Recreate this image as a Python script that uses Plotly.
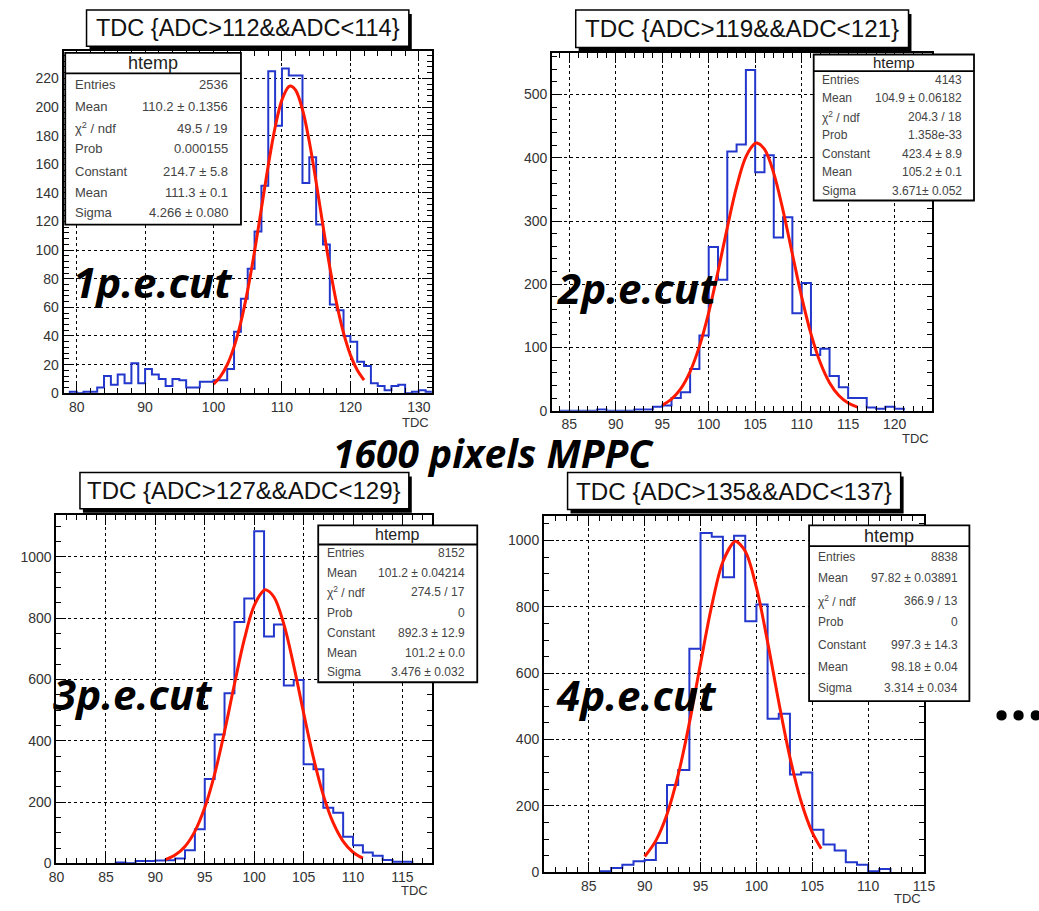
import plotly.graph_objects as go

W, H = 1039, 911

# ---------------- data ----------------
BIN_WIDTH = 1.0

P1_FIRST_EDGE = 79
P1_COUNTS = [1, 0, 1, 1, 4, 12, 6, 13, 7, 21, 7, 17, 13, 10, 5, 10, 9, 4, 4, 8, 8, 9, 9, 17,
             43, 66, 87, 113, 145, 225, 187, 227, 222, 222, 147, 165, 118, 104, 62, 58, 40,
             36, 22, 19, 7, 5, 2, 5, 6, 0, 1, 2, 1]
P1_FIT_X = [100, 101, 102, 103, 104, 105, 106, 107, 108, 109, 110, 111, 111.3,
            112, 113, 114, 115, 116, 117, 118, 119, 120, 121, 122]
P1_FIT_Y = [6.4, 11.6, 19.9, 32.4, 49.7, 72.2, 99.2, 129.2, 159.2, 185.7, 205.0, 214.2, 214.7,
            211.8, 198.3, 175.7, 147.4, 117.0, 87.9, 62.5, 42.1, 26.8, 16.2, 9.2]

P2_FIRST_EDGE = 84
P2_COUNTS = [0, 0, 0, 0, 2, 0, 0, 0, 2, 2, 6, 8, 20, 29, 66, 119, 259, 207, 410, 421, 539,
             377, 404, 274, 306, 154, 202, 88, 98, 55, 37, 20, 20, 5, 3, 6, 3]
P2_FIT_X = [95, 96, 97, 98, 99, 100, 101, 102, 103, 104, 105, 105.2,
            106, 107, 108, 109, 110, 111, 112, 113, 114, 115, 116]
P2_FIT_Y = [8.9, 18.3, 34.9, 61.9, 101.7, 155.2, 220.0, 289.6, 353.8, 401.4, 422.8, 423.4,
            413.5, 375.4, 316.5, 247.8, 180.1, 121.5, 76.1, 44.3, 23.9, 12.0, 5.6]

P3_FIRST_EDGE = 86
P3_COUNTS = [3, 0, 8, 8, 9, 10, 16, 43, 111, 275, 420, 555, 787, 864, 1083, 740, 779, 580,
             598, 323, 307, 181, 165, 87, 59, 35, 25, 11, 5, 5]
P3_FIT_X = [91, 92, 93, 94, 95, 96, 97, 98, 99, 100, 101, 101.2,
            102, 103, 104, 105, 106, 107, 108, 109, 110, 111]
P3_FIT_Y = [12.0, 26.9, 55.2, 104.4, 181.9, 291.4, 430.0, 584.1, 730.3, 840.6, 890.8, 892.3,
            869.0, 780.3, 645.1, 490.9, 343.9, 221.8, 131.7, 71.9, 36.2, 16.8]

P4_FIRST_EDGE = 86
P4_COUNTS = [3, 13, 23, 33, 37, 88, 263, 308, 674, 1023, 1011, 889, 1014, 757, 807, 463, 478,
             295, 301, 128, 84, 66, 30, 23, 3, 10]
P4_FIT_X = [90, 91, 92, 93, 94, 95, 96, 97, 98, 98.18, 99, 100, 101, 102, 103, 104, 105, 105.8]
P4_FIT_Y = [47.4, 95.4, 175.2, 294.0, 450.2, 629.3, 803.2, 936.1, 995.8, 997.3,
            967.3, 857.7, 694.4, 513.2, 346.4, 213.3, 120.0, 70.9]

P1_TITLE = "TDC {ADC>112&&ADC<114}"
P2_TITLE = "TDC {ADC>119&&ADC<121}"
P3_TITLE = "TDC {ADC>127&&ADC<129}"
P4_TITLE = "TDC {ADC>135&&ADC<137}"

STAT_LABELS = ["Entries", "Mean", "χ<sup>2</sup> / ndf", "Prob", "Constant", "Mean", "Sigma"]
P1_STATS = ["2536", "110.2 ± 0.1356", "49.5 / 19", "0.000155", "214.7 ± 5.8", "111.3 ± 0.1", "4.266 ± 0.080"]
P2_STATS = ["4143", "104.9 ± 0.06182", "204.3 / 18", "1.358e-33", "423.4 ± 8.9", "105.2 ± 0.1", "3.671± 0.052"]
P3_STATS = ["8152", "101.2 ± 0.04214", "274.5 / 17", "0", "892.3 ± 12.9", "101.2 ± 0.0", "3.476 ± 0.032"]
P4_STATS = ["8838", "97.82 ± 0.03891", "366.9 / 13", "0", "997.3 ± 14.3", "98.18 ± 0.04", "3.314 ± 0.034"]

CUT_LABELS = ["1p.e.cut", "2p.e.cut", "3p.e.cut", "4p.e.cut"]
MAIN_LABEL = "1600 pixels MPPC"

# ---------------- layout (pixels) ----------------
panels = [
    dict(first=P1_FIRST_EDGE, counts=P1_COUNTS, fx=P1_FIT_X, fy=P1_FIT_Y, title=P1_TITLE, stats=P1_STATS,
         frame=(56.7, 51.7, 431.7, 396.7), xr=[78.1, 131.9], yr=[0, 239], xd=10, xm=2, yd=20, ym=4,
         tbox=(80, 10, 408.3, 46.7), tfs=23.5,
         sbox=(58.3, 53.3, 237.3, 226.7), shead=74, hfs=18, sfs=13, rows=[85, 107.3, 129.3, 150, 172.7, 194.7, 214],
         sl=66.7, sr=226, tdc=(431, 426), cut=(64, 284)),
    dict(first=P2_FIRST_EDGE, counts=P2_COUNTS, fx=P2_FIT_X, fy=P2_FIT_Y, title=P2_TITLE, stats=P2_STATS,
         frame=(554.3, 53.3, 941, 414.3), xr=[83.16, 124.0], yr=[0, 566], xd=5, xm=1, yd=100, ym=20,
         tbox=(578.3, 10, 917.3, 48), tfs=24.2,
         sbox=(820.7, 55, 984, 202.3), shead=71.7, hfs=15, sfs=12, rows=[81, 99.3, 118.3, 136.7, 155, 173.7, 192.3],
         sl=827.3, sr=974, tdc=(940, 442), cut=(557, 290)),
    dict(first=P3_FIRST_EDGE, counts=P3_COUNTS, fx=P3_FIT_X, fy=P3_FIT_Y, title=P3_TITLE, stats=P3_STATS,
         frame=(49.3, 520, 432.3, 871), xr=[79.99, 118.03], yr=[0, 1135], xd=5, xm=1, yd=200, ym=50,
         tbox=(73.3, 476.7, 408.3, 513.3), tfs=24,
         sbox=(316, 530, 478, 688.3), shead=549.3, hfs=16, sfs=12, rows=[558.3, 578.3, 597.7, 618.3, 638.3, 658.3, 677.7],
         sl=322.7, sr=467.7, tdc=(430, 898), cut=(44, 700)),
    dict(first=P4_FIRST_EDGE, counts=P4_COUNTS, fx=P4_FIT_X, fy=P4_FIT_Y, title=P4_TITLE, stats=P4_STATS,
         frame=(546, 520.7, 933.3, 880), xr=[80.99, 115.02], yr=[0, 1073.5], xd=5, xm=1, yd=200, ym=50,
         tbox=(570, 476.7, 909.3, 514), tfs=24.2,
         sbox=(816, 530, 979.3, 707.3), shead=551, hfs=18, sfs=12, rows=[561.7, 583.3, 606.7, 627.7, 651, 672.7, 694.3],
         sl=822.7, sr=969.3, tdc=(932, 906), cut=(556, 701)),
]


def px(x):
    return x / W


def py(y):
    return 1 - y / H


fig = go.Figure()
shapes = []
annotations = []
layout = {}

TICKFONT = dict(family="Liberation Sans, Arial, sans-serif", size=14, color="#333333")
HIST_COLOR = "rgb(35,55,205)"
FIT_COLOR = "rgb(255,25,0)"

for i, p in enumerate(panels):
    n = i + 1
    xa = "x" if n == 1 else f"x{n}"
    ya = "y" if n == 1 else f"y{n}"
    x0, y0, x1, y1 = p["frame"]
    common = dict(showline=True, linecolor="black", linewidth=2, mirror="allticks",
                  ticks="inside", ticklen=10, tickwidth=1.3, tickcolor="black",
                  showgrid=True, gridcolor="black", griddash="dot", gridwidth=1,
                  zeroline=False, tickfont=TICKFONT, fixedrange=True)
    layout["xaxis" if n == 1 else f"xaxis{n}"] = dict(
        common, domain=[px(x0), px(x1)], range=p["xr"], anchor=ya,
        tick0=0, dtick=p["xd"], minor=dict(ticks="inside", ticklen=5, dtick=p["xm"], tick0=0,
                                           tickcolor="black", tickwidth=1.2, showgrid=False))
    layout["yaxis" if n == 1 else f"yaxis{n}"] = dict(
        common, domain=[py(y1), py(y0)], range=p["yr"], anchor=xa,
        tick0=0, dtick=p["yd"], minor=dict(ticks="inside", ticklen=5, dtick=p["ym"], tick0=0,
                                           tickcolor="black", tickwidth=1.2, showgrid=False))

    # histogram outline
    edges = [p["first"] + k * BIN_WIDTH for k in range(len(p["counts"]) + 1)]
    hx = [edges[0]] + edges[:-1] + [edges[-1], edges[-1]]
    hy = [0] + p["counts"] + [p["counts"][-1], 0]
    fig.add_trace(go.Scatter(x=hx, y=hy, mode="lines", line=dict(shape="hv", color=HIST_COLOR, width=2),
                             xaxis=xa, yaxis=ya, showlegend=False, hoverinfo="skip"))
    # fit
    fig.add_trace(go.Scatter(x=p["fx"], y=p["fy"], mode="lines",
                             line=dict(shape="spline", color=FIT_COLOR, width=3),
                             xaxis=xa, yaxis=ya, showlegend=False, hoverinfo="skip"))

    # title box with shadow
    tx0, ty0, tx1, ty1 = p["tbox"]
    shapes.append(dict(type="rect", xref="paper", yref="paper", x0=px(tx0 + 3), x1=px(tx1 + 3),
                       y0=py(ty1 + 4), y1=py(ty0 + 4), fillcolor="black", line=dict(width=0), layer="above"))
    shapes.append(dict(type="rect", xref="paper", yref="paper", x0=px(tx0), x1=px(tx1),
                       y0=py(ty1), y1=py(ty0), fillcolor="white", line=dict(color="black", width=1.5), layer="above"))
    annotations.append(dict(xref="paper", yref="paper", x=px((tx0 + tx1) / 2), y=py((ty0 + ty1) / 2),
                            text=p["title"], showarrow=False, xanchor="center", yanchor="middle",
                            font=dict(family="Liberation Sans, Arial, sans-serif", size=p["tfs"], color="#111111")))

    # stat box
    sx0, sy0, sx1, sy1 = p["sbox"]
    shapes.append(dict(type="rect", xref="paper", yref="paper", x0=px(sx0), x1=px(sx1),
                       y0=py(sy1), y1=py(sy0), fillcolor="white", line=dict(color="black", width=1.8), layer="above"))
    shapes.append(dict(type="line", xref="paper", yref="paper", x0=px(sx0), x1=px(sx1),
                       y0=py(p["shead"]), y1=py(p["shead"]), line=dict(color="black", width=1.8), layer="above"))
    annotations.append(dict(xref="paper", yref="paper", x=px((sx0 + sx1) / 2), y=py((sy0 + p["shead"]) / 2),
                            text="htemp", showarrow=False, xanchor="center", yanchor="middle",
                            font=dict(family="Liberation Sans, Arial, sans-serif", size=p["hfs"], color="#222222")))
    for lab, val, ry in zip(STAT_LABELS, p["stats"], p["rows"]):
        annotations.append(dict(xref="paper", yref="paper", x=px(p["sl"]), y=py(ry), text=lab,
                                showarrow=False, xanchor="left", yanchor="middle",
                                font=dict(family="Liberation Sans, Arial, sans-serif", size=p["sfs"], color="#444444")))
        annotations.append(dict(xref="paper", yref="paper", x=px(p["sr"]), y=py(ry), text=val,
                                showarrow=False, xanchor="right", yanchor="middle",
                                font=dict(family="Liberation Sans, Arial, sans-serif", size=p["sfs"], color="#444444")))

    # axis title
    annotations.append(dict(xref="paper", yref="paper", x=px(p["tdc"][0]), y=py(p["tdc"][1]), text="TDC",
                            showarrow=False, xanchor="right", yanchor="middle",
                            font=dict(family="Liberation Sans, Arial, sans-serif", size=13, color="#333333")))
    # cut label
    annotations.append(dict(xref="paper", yref="paper", x=px(p["cut"][0]), y=py(p["cut"][1]),
                            text=f"<b><i>{CUT_LABELS[i]}</i></b>", showarrow=False, xanchor="left", yanchor="middle",
                            font=dict(family="Open Sans, sans-serif", size=42, color="black")))

annotations.append(dict(xref="paper", yref="paper", x=px(495), y=py(457), text=f"<b><i>{MAIN_LABEL}</i></b>",
                        showarrow=False, xanchor="center", yanchor="middle",
                        font=dict(family="Open Sans, sans-serif", size=39, color="black")))
annotations.append(dict(xref="paper", yref="paper", x=px(1001), y=py(703), text="<b>...</b>",
                        showarrow=False, xanchor="left", yanchor="middle",
                        font=dict(family="Open Sans, sans-serif", size=60, color="black")))

fig.update_layout(width=W, height=H, margin=dict(l=0, r=0, t=0, b=0), autosize=False,
                  paper_bgcolor="white", plot_bgcolor="white", showlegend=False,
                  shapes=shapes, annotations=annotations, **layout)

fig.write_html("out.html", config={"displayModeBar": False})
